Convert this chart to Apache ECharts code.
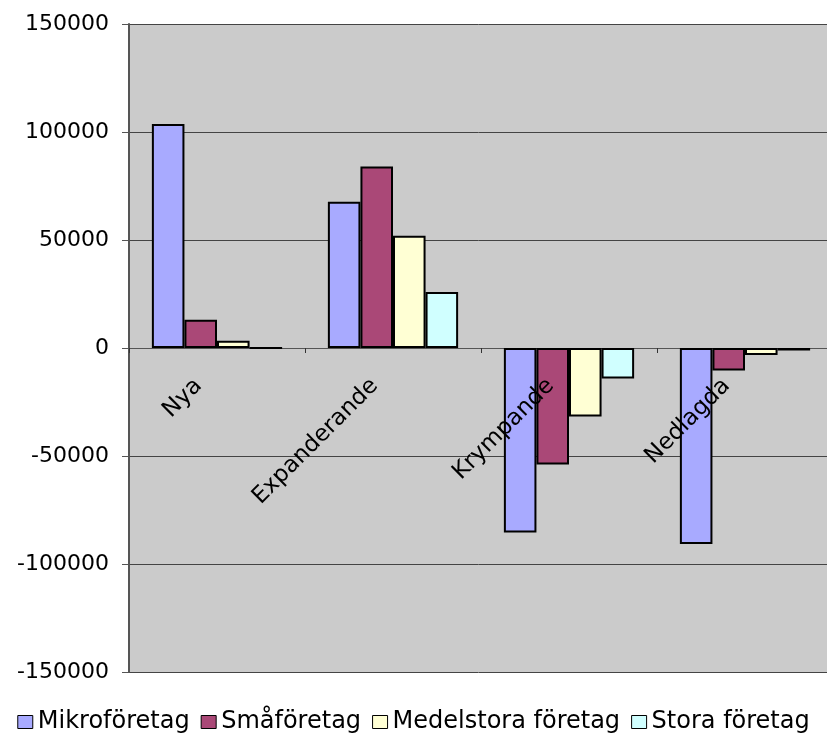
<!DOCTYPE html>
<html>
<head>
<meta charset="utf-8">
<script src="https://cdn.jsdelivr.net/npm/echarts@6/dist/echarts.min.js"></script>
<style>
  html, body { margin: 0; padding: 0; background: #fff; }
  #chart { width: 827px; height: 736px; }
</style>
</head>
<body>
<div id="chart"></div>
<script>
// kategorier och serier
const categories = ['Nya', 'Expanderande', 'Krympande', 'Nedlagda']
const seriesNames = ['Mikroföretag', 'Småföretag', 'Medelstora företag', 'Stora företag']
const mikro = [103700, 67700, -85400, -90700]
const sma = [13100, 84000, -53900, -10400]
const medel = [3400, 52000, -31700, -3200]
const stora = [0, 25900, -14100, -1100]
const colors = ['#a8aaff', '#aa4877', '#ffffd4', '#d0ffff']

const font = 'DejaVu Sans, Verdana, sans-serif'
const chart = echarts.init(document.getElementById('chart'))

const values = [mikro, sma, medel, stora]
const option = {
  animation: false,
  backgroundColor: '#ffffff',
  color: colors,
  grid: {
    left: 129,
    right: -6,
    top: 24,
    bottom: 64,
    containLabel: false,
    outerBoundsMode: 'none',
    show: true,
    backgroundColor: '#cbcbcb',
    borderWidth: 0,
  },
  legend: {
    top: 710,
    left: 'center',
    padding: 0,
    itemWidth: 15,
    itemHeight: 13,
    itemGap: 11,
    icon: 'rect',
    textStyle: { fontFamily: font, fontSize: 24, color: '#000' },
    itemStyle: { borderColor: '#000', borderWidth: 1 },
    data: seriesNames,
  },
  xAxis: [
    {
      // linje och streck vid noll
      type: 'category',
      data: categories,
      axisLine: { onZero: true, lineStyle: { color: '#555', width: 1 } },
      axisTick: { show: true, length: 5, lineStyle: { color: '#333' } },
      axisLabel: { show: false },
    },
    {
      // etiketterna flyttas upp till nollinjen, ovanpå staplarna
      type: 'category',
      data: categories,
      position: 'bottom',
      offset: -324,
      z: 10,
      axisLine: { show: false },
      axisTick: { show: false },
      axisLabel: {
        rotate: 45,
        margin: 16,
        padding: [0, 26, 0, 0],
        fontFamily: font,
        fontSize: 23,
        color: '#000',
      },
    },
  ],
  yAxis: {
    type: 'value',
    min: -150000,
    max: 150000,
    interval: 50000,
    axisLine: { show: true, lineStyle: { color: '#555', width: 2 } },
    axisTick: { show: true, length: 7, lineStyle: { color: '#555' } },
    axisLabel: {
      fontFamily: font,
      fontSize: 22,
      color: '#000',
      margin: 20,
      formatter: (v) => String(v),
    },
    splitLine: { show: true, lineStyle: { color: '#444', width: 1 } },
  },
  series: seriesNames.map((name, i) => ({
    name: name,
    type: 'bar',
    xAxisIndex: 0,
    data: values[i],
    barGap: 0,
    barCategoryGap: '26%',
    itemStyle: { borderColor: '#000', borderWidth: 2 },
  })),
}
chart.setOption(option)
</script>
</body>
</html>
